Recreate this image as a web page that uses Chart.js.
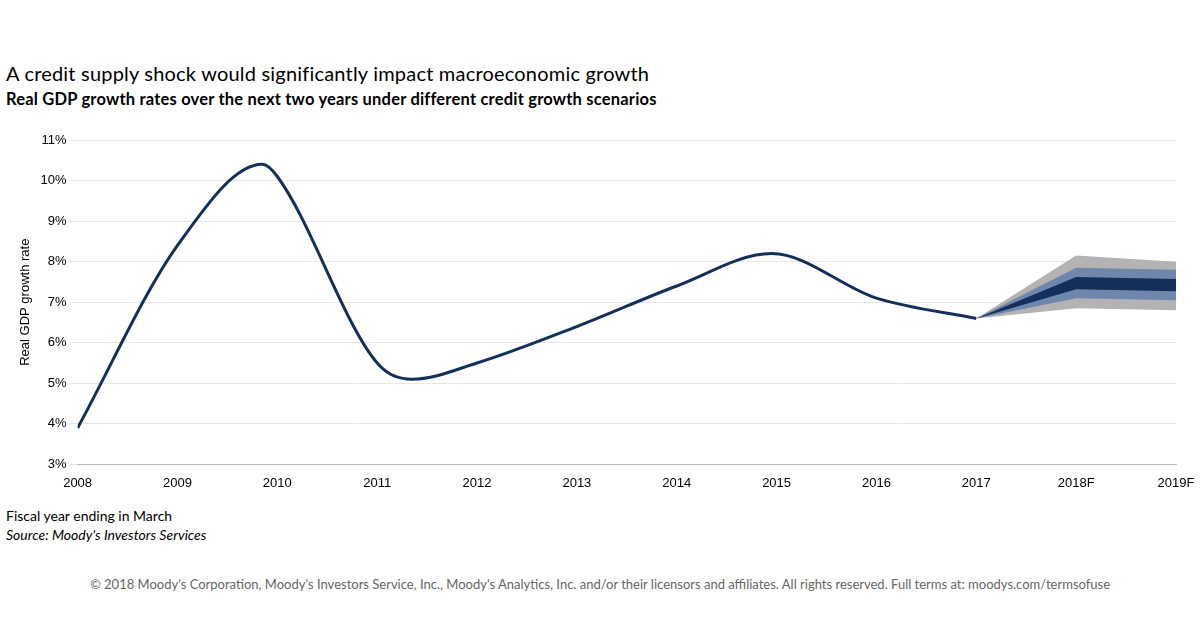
<!DOCTYPE html>
<html><head><meta charset="utf-8">
<script src="https://cdn.jsdelivr.net/npm/chart.js@4/dist/chart.umd.min.js"></script>
<style>
body{margin:0;width:1200px;height:627px;background:#fff;font-family:Lato,"Open Sans",sans-serif;position:relative;overflow:hidden}
#t1{position:absolute;left:6px;top:61px;font-size:20px;color:#000;letter-spacing:0.2px}
#t2{position:absolute;left:6px;top:89px;font-size:16.5px;font-weight:bold;color:#000;letter-spacing:0.2px}
#wrap{position:absolute;left:0;top:122px;width:1200px;height:372px}
#n1{position:absolute;left:6px;top:507px;font-size:14px}
#n2{position:absolute;left:6px;top:526px;font-size:14px;font-style:italic}
#cp{position:absolute;left:0;width:1200px;text-align:center;top:576px;font-size:13px;color:#666}
</style></head><body>
<div id="t1">A credit supply shock would significantly impact macroeconomic growth</div>
<div id="t2">Real GDP growth rates over the next two years under different credit growth scenarios</div>
<div id="wrap"><canvas id="c"></canvas></div>
<div id="n1">Fiscal year ending in March</div>
<div id="n2">Source: Moody's Investors Services</div>
<div id="cp">© 2018 Moody's Corporation, Moody's Investors Service, Inc., Moody's Analytics, Inc. and/or their licensors and affiliates. All rights reserved. Full terms at: moodys.com/termsofuse</div>
<script>
const histYears = [2008, 2009, 2009.85, 2010, 2011, 2011.35, 2012, 2013, 2014, 2014.95, 2016, 2017];
const histGrowth = [3.9, 8.4, 10.4, 10.1, 5.5, 5.1, 5.5, 6.4, 7.4, 8.2, 7.1, 6.6];
const fanYears = [2017, 2018, 2019];
const outerLow = [6.6, 6.85, 6.8];
const outerHigh = [6.6, 8.15, 8.0];
const midLow = [6.6, 7.1, 7.05];
const midHigh = [6.6, 7.85, 7.8];
const innerLow = [6.6, 7.32, 7.27];
const innerHigh = [6.6, 7.62, 7.57];

const pts = (xs, ys) => xs.map((x, i) => ({x, y: ys[i]}));
function band(lo, hi, color, order) {
  return [
    {data: pts(fanYears, lo), borderWidth: 0, pointRadius: 0, tension: 0, order, fill: false},
    {data: pts(fanYears, hi), borderWidth: 0, pointRadius: 0, tension: 0, order, fill: '-1', backgroundColor: color}
  ];
}

new Chart(document.getElementById("c"), {
  type: 'line',
  data: {
    datasets: [
      {data: pts(histYears, histGrowth), borderColor: '#13305b', borderWidth: 3, pointRadius: 0, cubicInterpolationMode: 'monotone', fill: false, order: 0},
      ...band(innerLow, innerHigh, '#13305b', 1),
      ...band(midLow, midHigh, '#6f86ad', 2),
      ...band(outerLow, outerHigh, '#b3b3b3', 3)
    ]
  },
  options: {
    responsive: true, maintainAspectRatio: false, animation: false,
    layout: {padding: {left: 14, right: 24, top: 18}},
    plugins: {legend: {display: false}, tooltip: {enabled: false}},
    scales: {
      x: {type: 'linear', min: 2008, max: 2019,
        grid: {display: false}, border: {color: '#bbb'},
        ticks: {stepSize: 1, color: '#000', font: {family: 'Arial', size: 13},
          callback: v => v >= 2018 ? v + 'F' : v}},
      y: {min: 3, max: 11,
        grid: {color: '#e6e6e6'}, border: {display: false},
        title: {display: true, text: 'Real GDP growth rate', color: '#000', font: {family: 'Arial', size: 13}},
        ticks: {stepSize: 1, color: '#000', font: {family: 'Arial', size: 13}, callback: v => v + '%'}}
    }
  }
});
</script></body></html>
